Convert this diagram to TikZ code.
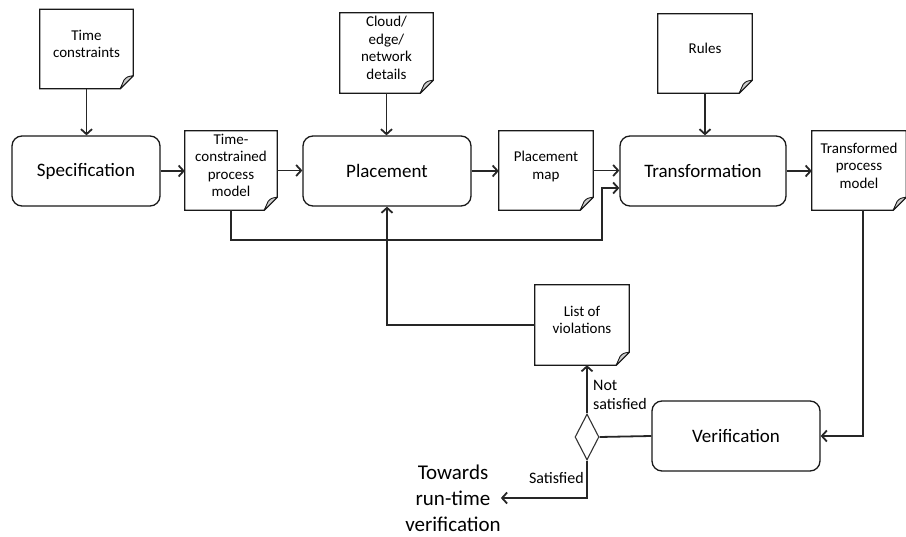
\documentclass[tikz,border=0pt]{standalone}
\usepackage{fontspec}
\setmainfont{Carlito}
\usetikzlibrary{arrows.meta,shapes.geometric}
\begin{document}
\begin{tikzpicture}[x=1pt,y=-1pt,
  proc/.style={draw=black!90, line width=1.3pt, rounded corners=10pt, minimum width=168pt, minimum height=70pt, inner sep=0pt, font=\fontsize{19}{23}\selectfont},
  doc/.style={minimum width=93pt, minimum height=79pt, inner sep=1pt, align=center, text depth=10pt, font=\fontsize{15}{17.5}\selectfont},
  docline/.style={draw=black!90, line width=1.3pt, line join=miter},
  fold/.style={draw=black!90, fill=black!20, line width=0.9pt, line join=round},
  conn/.style={draw=black!85, line width=1.8pt, -{Straight Barb[length=5pt,width=11pt]}},
  plain/.style={draw=black!85, line width=1.8pt},
  lbl/.style={inner sep=0pt, align=left, font=\fontsize{16}{19}\selectfont},
  decision/.style={diamond, draw=black!80, line width=1.1pt, minimum width=24pt, minimum height=46pt, inner sep=0pt, aspect=0.5}
]
\useasboundingbox (0,0) rectangle (906,537);

% process boxes
\node[proc, minimum width=148pt] (spec) at (86,171) {Specification};
\node[proc] (place) at (387,171) {Placement};
\node[proc, minimum width=166pt] (trans) at (703,171) {Transformation};
\node[proc] (verif) at (736,436) {Verification};

% documents
\node[doc] (tc) at (86.5,49) {Time\\constraints};
\node[doc, minimum width=92pt] (tcpm) at (231,170.5) {Time-\\constrained\\process\\model};
\node[doc, minimum height=80pt] (cloud) at (386.5,53) {Cloud/\\edge/\\network\\details};
\node[doc, minimum width=94pt] (map) at (546,170.5) {Placement\\map};
\node[doc, minimum width=94pt] (rules) at (705,53.5) {Rules};
\node[doc, minimum width=94pt] (tpm) at (859,170.5) {Transformed\\process\\model};
\node[doc, minimum width=94pt, minimum height=80pt] (list) at (582,325) {List of\\violations};

\foreach \d in {tc,tcpm,cloud,map,rules,tpm,list}{
  \draw[docline] (\d.north west) -- (\d.north east) -- ([yshift=13pt]\d.south east)
     -- ([xshift=-13pt]\d.south east) -- (\d.south west) -- cycle;
  \draw[fold] ([xshift=-13pt]\d.south east) -- ([yshift=13pt]\d.south east)
     .. controls ([xshift=-6pt,yshift=12pt]\d.south east) .. ([xshift=-9pt,yshift=9pt]\d.south east)
     -- cycle;
}

% decision and final text
\node[decision] (dia) at (587,437) {};
\node[inner sep=0pt, align=center, font=\fontsize{21}{26}\selectfont] (tw) at (453,498) {Towards\\run-time\\verification};
\node[lbl, anchor=west] (notsat) at (593,395) {Not\\satisfied};
\node[lbl, anchor=east] (sat) at (584,478) {Satisfied};

% connectors
\draw[conn] (tc.south) -- (tc.south |- spec.north);
\draw[conn] (cloud.south) -- (cloud.south |- place.north);
\draw[conn] (rules.south) -- (rules.south |- trans.north);
\draw[conn] (spec.east) -- (spec.east -| tcpm.west);
\draw[conn] (tcpm.east) -- (tcpm.east -| place.west);
\draw[conn] (place.east) -- (place.east -| map.west);
\draw[conn] (map.east) -- (map.east -| trans.west);
\draw[conn] (trans.east) -- (trans.east -| tpm.west);

\coordinate (j1) at (602,240);
\draw[conn] (tcpm.south) |- (j1) |- ([yshift=-17pt]trans.west);
\draw[conn] (list.west) -| (place.south);
\draw[conn] ([xshift=4pt]tpm.south) |- (verif.east);
\draw[plain] (verif.west) -- (dia.east);
\draw[conn] (dia.north) -- (dia.north |- list.south);
\draw[conn] (dia.south) |- (tw.east);
\end{tikzpicture}
\end{document}
